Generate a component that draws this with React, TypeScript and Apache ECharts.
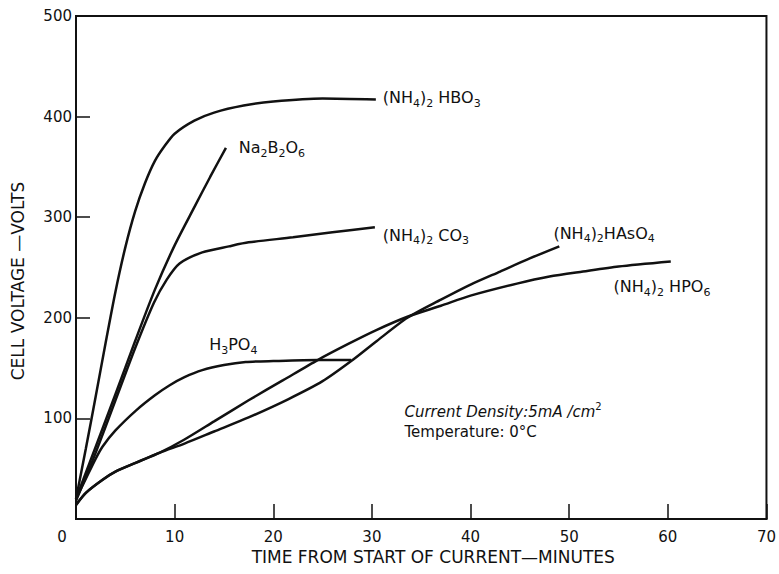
import React, { useEffect, useRef } from "react";
import * as echarts from "echarts";

// Time (minutes) vs cell voltage (volts)
const hbo3: number[][] = [
  [0, 20], [1, 70], [2, 122], [3, 175], [4, 226], [5, 270], [6, 306], [7, 334],
  [8, 356], [9, 371], [10, 383], [12, 396], [14, 404], [17, 411], [20, 415], [25, 418],
  [30.4, 417],
];
const na2b2o6: number[][] = [
  [0, 20], [1, 46], [2, 72], [4, 124], [6, 177], [8, 228], [10, 272], [12, 310],
  [13.6, 340], [15.2, 369],
];
const co3: number[][] = [
  [0, 18], [1, 42], [2, 66], [4, 118], [6, 170], [7.9, 215], [9.2, 238], [10.5, 254],
  [12.8, 265], [15.5, 271], [17.5, 275], [22, 280], [26, 285], [30.3, 290],
];
const h3po4: number[][] = [
  [0, 20], [1, 40], [2, 60], [2.7, 72], [4, 88], [6.1, 108], [8, 123], [9.5, 133],
  [11, 141], [12.8, 148], [15, 153], [17.2, 156], [20, 157], [24.5, 158], [27.9, 158],
];
const hpo6: number[][] = [
  [0, 14], [1, 26], [2.7, 39], [4, 47], [6.1, 56], [8.5, 66], [11, 79], [14, 97],
  [17.5, 118], [21, 138], [24.5, 158], [27.6, 174], [30.5, 188], [33.6, 201], [37, 212],
  [40, 222], [44.7, 234], [48, 241], [51.4, 246], [55, 251], [60.3, 256],
];
const haso4: number[][] = [
  [0, 14], [1, 26], [2.7, 39], [4, 47], [6.1, 56], [8.5, 66], [11, 75], [14, 87],
  [17.5, 101], [21.5, 119], [25, 137], [27.9, 157], [30.5, 177], [33.6, 200], [37, 218],
  [40, 233], [43, 246], [46, 259], [49, 271],
];

const curveNames = ["(NH4)2HBO3", "Na2B2O6", "(NH4)2CO3", "H3PO4", "(NH4)2HPO6", "(NH4)2HAsO4"];
const curveData = [hbo3, na2b2o6, co3, h3po4, hpo6, haso4];

// Curve labels (rich text) and their anchor in data coordinates (left edge, vertical middle)
const labelTexts = [
  "{n|(NH}{s|4}{n|)}{s|2}{n| HBO}{s|3}",
  "{n|Na}{s|2}{n|B}{s|2}{n|O}{s|6}",
  "{n|(NH}{s|4}{n|)}{s|2}{n| CO}{s|3}",
  "{n|H}{s|3}{n|PO}{s|4}",
  "{n|(NH}{s|4}{n|)}{s|2}{n| HPO}{s|6}",
  "{n|(NH}{s|4}{n|)}{s|2}{n|HAsO}{s|4}",
];
const labelAnchors: number[][] = [
  [31.1, 418.5], [16.5, 369], [31.1, 282], [13.5, 173], [54.5, 231], [48.4, 284],
];
const noteTexts = [
  "{i|Current Density:5mA /cm}{p|2}",
  "{n|Temperature: 0°C}",
];
const noteAnchors: number[][] = [[33.3, 106], [33.3, 86]];

const xTitle = "TIME FROM START OF CURRENT—MINUTES";
const yTitle = "CELL VOLTAGE —VOLTS";

export default function App() {
  const ref = useRef<HTMLDivElement>(null);
  useEffect(() => {
    if (!ref.current) return;
    const chart = echarts.init(ref.current, null, { renderer: "svg" });
    const font = "DejaVu Sans";
    const black = "#111";
    chart.setOption({
      animation: false,
      backgroundColor: "#fff",
      grid: {
        left: 76, right: 7, top: 16, bottom: 55,
        show: true, borderColor: black, borderWidth: 2,
      },
      xAxis: {
        type: "value", min: 0, max: 70, interval: 10,
        name: xTitle, nameLocation: "middle", nameGap: 29,
        nameTextStyle: { fontFamily: font, fontSize: 17, color: black, padding: [0, 0, 0, 24] },
        axisLine: { show: true, lineStyle: { color: black, width: 2 } },
        axisTick: { show: true, inside: true, length: 15, lineStyle: { color: black, width: 1.5 } },
        splitLine: { show: false },
        axisLabel: {
          margin: 10, fontFamily: font, fontSize: 15, color: black,
          formatter: (v: number) => (v === 0 ? "{o|0}" : String(v)),
          rich: { o: { fontFamily: font, fontSize: 15, color: black, padding: [0, 28, 0, 0] } },
        },
      },
      yAxis: {
        type: "value", min: 0, max: 500, interval: 100,
        name: yTitle, nameLocation: "middle", nameGap: 50, nameRotate: 90,
        nameTextStyle: { fontFamily: font, fontSize: 17, color: black, padding: [0, 27, 0, 0] },
        axisLine: { show: true, lineStyle: { color: black, width: 2 } },
        axisTick: { show: true, inside: true, length: 14, lineStyle: { color: black, width: 1.5 } },
        splitLine: { show: false },
        axisLabel: {
          margin: 4, fontFamily: font, fontSize: 15, color: black,
          formatter: (v: number) => (v === 0 ? "" : String(v)),
        },
      },
      series: curveData.map((d, i) => ({
        name: curveNames[i],
        type: "line",
        data: d,
        symbol: "none",
        showSymbol: false,
        smooth: 0.25,
        silent: true,
        lineStyle: { color: black, width: 2.5 },
      })),
    });

    const richStyles = {
      n: { fontFamily: font, fontSize: 16, lineHeight: 22, fill: black, color: black },
      i: { fontFamily: font, fontSize: 15, fontStyle: "italic", lineHeight: 22, fill: black, color: black },
      s: { fontFamily: font, fontSize: 11, lineHeight: 11, verticalAlign: "bottom", fill: black, color: black },
      p: { fontFamily: font, fontSize: 10, lineHeight: 11, verticalAlign: "top", fill: black, color: black },
    };
    const noteRich = {
      ...richStyles,
      n: { fontFamily: font, fontSize: 15, lineHeight: 22, fill: black, color: black },
    };
    const mk = (t: string, at: number[], rich: any) => {
      const [px, py] = chart.convertToPixel({ gridIndex: 0 }, at) as number[];
      return {
        type: "text",
        x: px,
        y: py,
        silent: true,
        style: { text: t, rich, align: "left", verticalAlign: "middle", fill: black },
      };
    };
    const graphics = [
      ...labelTexts.map((t, i) => mk(t, labelAnchors[i], richStyles)),
      ...noteTexts.map((t, i) => mk(t, noteAnchors[i], noteRich)),
    ];
    chart.setOption({ graphic: graphics });
    return () => chart.dispose();
  }, []);
  return (
    <div
      ref={ref}
      style={{ position: "fixed", left: 0, top: 0, width: 779, height: 574, background: "#fff" }}
    />
  );
}
